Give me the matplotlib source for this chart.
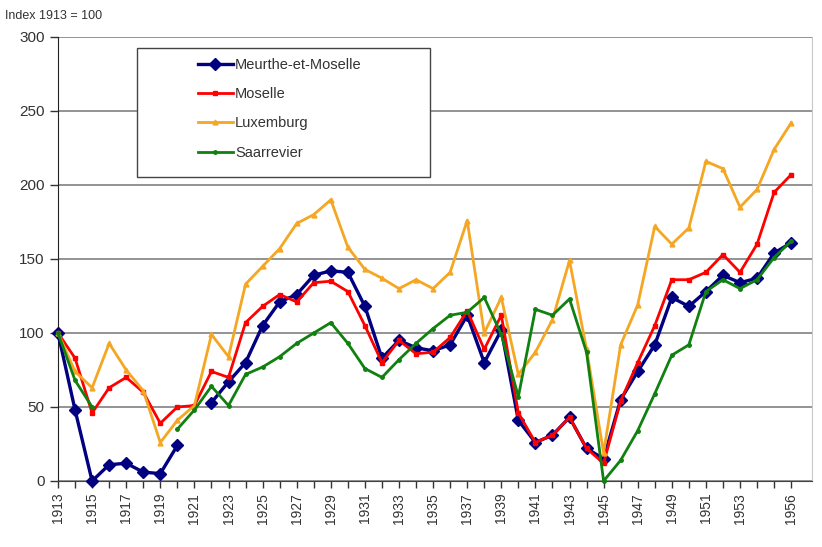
import numpy as np
import matplotlib
matplotlib.use('Agg')
import matplotlib.pyplot as plt
from matplotlib.patches import Rectangle

plt.rcParams['font.family'] = ['Liberation Sans', 'DejaVu Sans']

years = list(range(1913, 1957))
nan = np.nan

meurthe = [100, 48, 0, 11, 12, 6, 5, 24, nan, 53, 67, 80, 105, 121, 126, 139, 142, 141,
           118, 83, 95, 90, 88, 92, 112, 80, 102, 41, 26, 31, 43, 22, 15, 55, 74, 92,
           124, 118, 128, 139, 134, 137, 154, 161]
moselle = [100, 83, 46, 63, 70, 60, 39, 50, 51, 74, 70, 107, 118, 126, 121, 134, 135, 128,
           105, 80, 95, 86, 87, 97, 115, 89, 112, 46, 26, 31, 43, 22, 12, 54, 80, 105,
           136, 136, 141, 153, 141, 160, 195, 207]
luxemburg = [100, 74, 63, 93, 75, 61, 26, 41, 51, 99, 84, 133, 145, 157, 174, 180, 190, 158,
             143, 137, 130, 136, 130, 141, 176, 100, 124, 72, 87, 109, 149, 89, 19, 92, 119, 172,
             160, 171, 216, 211, 185, 197, 224, 242]
saar = [100, 68, 50, nan, nan, nan, nan, 35, 48, 64, 51, 72, 77, 84, 93, 100, 107, 93,
        76, 70, 82, 93, 103, 112, 114, 124, 99, 57, 116, 112, 123, 87, 0, 14, 34, 59,
        85, 92, 128, 136, 130, 136, 151, 162]

series_names = ['Meurthe-et-Moselle', 'Moselle', 'Luxemburg', 'Saarrevier']
series_colors = ['#000080', '#ff0000', '#f5a623', '#108010']
tick_years = list(range(1913, 1954, 2)) + [1956]

fig = plt.figure(figsize=(8.22, 5.47), dpi=100)
ax = fig.add_axes([58 / 822, 66 / 547, (812 - 58) / 822, 444 / 547])

styles = [dict(marker='D', markersize=6, lw=2.4),
          dict(marker='s', markersize=3.5, lw=2.0),
          dict(marker='^', markersize=3.5, lw=2.0),
          dict(marker='o', markersize=2.5, lw=2.0)]
handles = []
for vals, name, col, st in zip([meurthe, moselle, luxemburg, saar], series_names, series_colors, styles):
    h, = ax.plot(years, vals, color=col, label=name, clip_on=False, zorder=3, **st)
    handles.append(h)

ax.set_xlim(1913, 1913 + (812 - 58) / 17.05)
ax.set_ylim(0, 300)
ax.set_yticks(range(0, 301, 50))
ax.set_xticks(years, minor=True)
ax.set_xticks(tick_years)
ax.set_xticklabels([str(y) for y in tick_years], rotation=90, fontsize=10, color='#333333')
ax.tick_params(axis='y', labelsize=11, colors='#333333', length=6, width=1, direction='out')
ax.tick_params(axis='x', which='both', length=5, width=1, direction='out', color='#333333')
ax.grid(axis='y', color='#808080', lw=1.2)
ax.set_axisbelow(True)
ax.spines['top'].set_visible(False)
ax.spines['right'].set_color('#c8c8c8')
ax.spines['left'].set_color('#222222')
ax.spines['bottom'].set_color('#444444')

# legend frame drawn separately (Excel-style wide left padding)
ax.add_patch(Rectangle((137 / 822, 1 - 177 / 547), (430 - 137) / 822, (177 - 48) / 547,
                       transform=fig.transFigure, facecolor='white', edgecolor='#444444',
                       lw=1, zorder=4, clip_on=False))
leg = ax.legend(handles=handles, loc='upper left', bbox_to_anchor=(192 / 822, 1 - 52 / 547),
                bbox_transform=fig.transFigure, frameon=False, fontsize=10.5,
                handlelength=2.4, handletextpad=0.15, labelspacing=1.05, borderaxespad=0)
for t in leg.get_texts():
    t.set_color('#333333')
leg.set_zorder(6)

fig.text(5 / 822, 1 - 16 / 547, 'Index 1913 = 100', fontsize=9, color='#333333', va='center')

fig.savefig('out.png', dpi=100)
